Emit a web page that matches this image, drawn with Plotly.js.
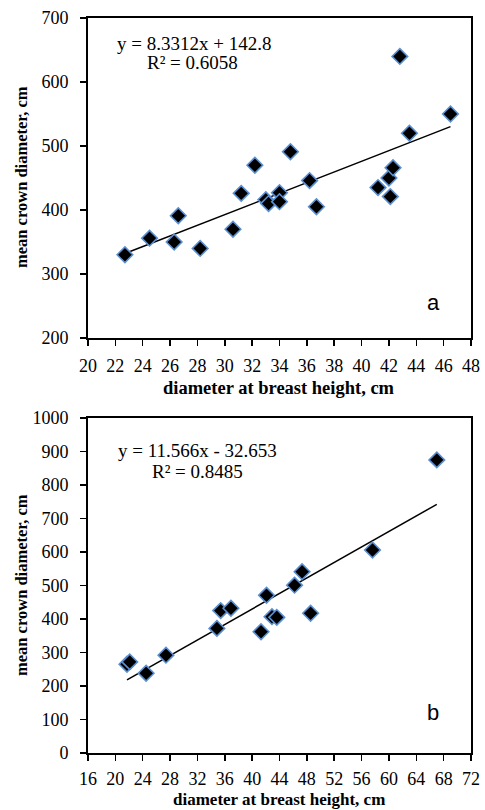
<!DOCTYPE html>
<html>
<head>
<meta charset="utf-8">
<script src="https://cdn.plot.ly/plotly-3.0.1.min.js"></script>
<style>html,body{margin:0;padding:0;background:#fff;}#chart{width:485px;height:810px;}</style>
</head>
<body>
<div id="chart"></div>
<script>
// Panel a
const dbhA = [22.7, 24.5, 26.3, 26.6, 28.2, 30.6, 31.2, 32.2, 33.0, 33.2, 34.0, 34.0, 34.8, 36.2, 36.7, 41.2, 42.0, 42.3, 42.1, 42.8, 43.5, 46.5];
const crownA = [330, 356, 350, 391, 340, 370, 426, 470, 416, 410, 427, 413, 491, 446, 405, 435, 450, 466, 421, 640, 520, 550];
const slopeA = 8.3312, interceptA = 142.8;
const eqA = "y = 8.3312x + 142.8", r2A = "R² = 0.6058";

// Panel b
const dbhB = [21.7, 22.1, 24.5, 27.4, 34.85, 35.4, 36.9, 41.3, 42.1, 42.9, 43.6, 46.2, 47.3, 48.55, 57.6, 67.0];
const crownB = [265, 272, 238, 292, 372, 425, 432, 362, 471, 407, 405, 501, 541, 417, 606, 875];
const slopeB = 11.566, interceptB = -32.653;
const eqB = "y = 11.566x - 32.653", r2B = "R² = 0.8485";

const xTitle = "diameter at breast height, cm";
const yTitle = "mean crown diameter, cm";

function trend(xs, m, c) {
  const lo = Math.min(...xs), hi = Math.max(...xs);
  return {x: [lo, hi], y: [m * lo + c, m * hi + c]};
}
const tA = trend(dbhA, slopeA, interceptA);
const tB = trend(dbhB, slopeB, interceptB);

const marker = {symbol: 'diamond', size: 12, color: '#000', line: {color: '#5A8FD2', width: 1.6}};
const traces = [
  {x: tA.x, y: tA.y, mode: 'lines', line: {color: '#000', width: 1.5}, xaxis: 'x', yaxis: 'y', hoverinfo: 'skip'},
  {x: dbhA, y: crownA, mode: 'markers', marker: marker, xaxis: 'x', yaxis: 'y'},
  {x: tB.x, y: tB.y, mode: 'lines', line: {color: '#000', width: 1.5}, xaxis: 'x2', yaxis: 'y2', hoverinfo: 'skip'},
  {x: dbhB, y: crownB, mode: 'markers', marker: marker, xaxis: 'x2', yaxis: 'y2'}
];

const SERIF = 'Liberation Serif, Times New Roman, serif';
const tickFont = {family: SERIF, size: 18, color: '#000'};
function ax(extra) {
  return Object.assign({
    showgrid: false, zeroline: false, showline: true, mirror: true,
    linecolor: '#000', linewidth: 2, ticks: 'outside', ticklen: 6, tickwidth: 1.5, tickcolor: '#000',
    tickfont: tickFont, fixedrange: true
  }, extra);
}

const W = 485, H = 810;
const xd = [88 / W, 471 / W];
function ann(x, y, text, font, extra) {
  return Object.assign({xref: 'paper', yref: 'paper', x: x / W, y: 1 - y / H, text: text, showarrow: false,
    xanchor: 'center', yanchor: 'middle', font: font}, extra || {});
}
const eqFont = {family: SERIF, size: 19, color: '#000'};
const xtFont = {family: SERIF, size: 18.5, color: '#000'};
const xtFontB = {family: SERIF, size: 17, color: '#000'};
const ytFont = {family: SERIF, size: 16.5, color: '#000'};
const lblFont = {family: 'Liberation Sans, Arial, sans-serif', size: 22, color: '#000'};

const layout = {
  width: W, height: H, showlegend: false,
  margin: {l: 0, r: 0, t: 0, b: 0},
  paper_bgcolor: '#fff', plot_bgcolor: '#fff',
  xaxis: ax({domain: xd, range: [20, 48], dtick: 2, tick0: 20, anchor: 'y', ticklabelstandoff: 4}),
  yaxis: ax({domain: [1 - 338 / H, 1 - 18 / H], range: [200, 700], dtick: 100, anchor: 'x', ticklabelstandoff: 8}),
  xaxis2: ax({domain: xd, range: [16, 72], dtick: 4, tick0: 16, anchor: 'y2', ticklabelstandoff: 2}),
  yaxis2: ax({domain: [1 - 753 / H, 1 - 418 / H], range: [0, 1000], dtick: 100, anchor: 'x2', ticklabelstandoff: 8}),
  annotations: [
    ann(194, 43, eqA, eqFont),
    ann(192, 63, r2A, eqFont),
    ann(433, 302, 'a', lblFont),
    ann(197, 450, eqB, eqFont),
    ann(197, 471, r2B, eqFont),
    ann(433, 712, 'b', lblFont),
    ann(279, 388, '<b>' + xTitle + '</b>', xtFont),
    ann(279, 799, '<b>' + xTitle + '</b>', xtFontB),
    ann(21, 177, '<b>' + yTitle + '</b>', ytFont, {textangle: -90}),
    ann(21, 585, '<b>' + yTitle + '</b>', ytFont, {textangle: -90})
  ]
};
Plotly.newPlot('chart', traces, layout, {displayModeBar: false, staticPlot: true});
</script>
</body>
</html>
